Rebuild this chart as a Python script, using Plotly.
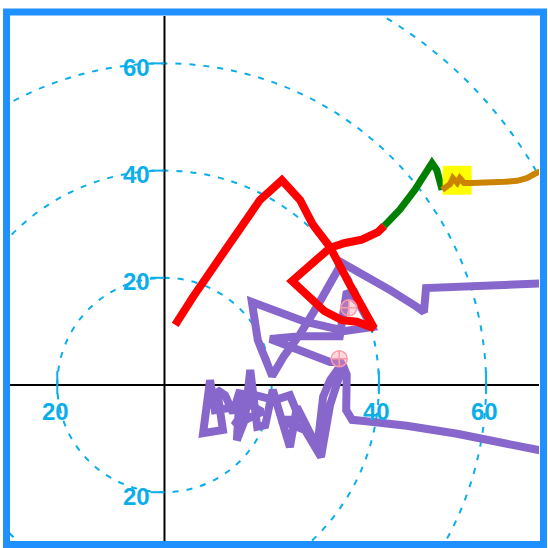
import plotly.graph_objects as go

# Hodograph wind components (u, v) in knots
red_u = [2.0, 5.3, 11.7, 17.8, 21.9, 25.3, 27.7, 30.9, 34.6, 36.8, 39.1, 35.9, 33.1, 29.8, 25.5, 23.8, 27.7, 30.9, 33.7, 36.8, 39.8, 41.0]
red_v = [11.2, 16.4, 25.7, 34.5, 38.2, 34.5, 29.9, 25.7, 18.7, 14.4, 10.6, 11.8, 12.1, 13.8, 17.7, 19.4, 22.8, 25.6, 26.5, 27.1, 28.5, 29.7]

green_u = [41.0, 43.9, 46.7, 48.6, 49.9, 50.8, 51.4, 51.8]
green_v = [29.7, 32.7, 36.4, 39.2, 41.4, 40.1, 37.9, 36.4]

orange_u = [51.8, 53.3, 53.8, 54.6, 55.1, 55.9, 57.4, 60.7, 63.5, 65.8, 67.6, 69.1, 71.6]
orange_v = [36.4, 37.5, 38.6, 37.7, 38.6, 37.7, 37.7, 37.7, 37.9, 38.1, 38.6, 39.4, 40.5]

purple_u = [71.6, 61.5, 53.5, 48.8, 48.4, 46.9, 42.1, 37.8, 33.1, 28.6, 25.3, 22.3, 20.1, 17.4,
            16.3, 26.2, 33.7, 38.7, 36.1, 34.0, 32.7, 25.3, 19.7, 30.9, 33.3, 30.9, 29.6, 28.5,
            24.7, 23.4, 20.2, 18.8, 17.3, 16.0, 15.0, 13.5, 14.1, 12.8, 11.3, 9.8, 10.9, 7.2,
            8.5, 9.4, 16.0, 18.2, 13.0, 16.9, 20.6, 23.4, 25.3, 21.5, 26.2, 29.2, 30.9, 33.3,
            34.0, 33.9, 35.0, 37.2, 45.2, 54.6, 63.9, 71.6]
purple_v = [19.0, 18.7, 18.5, 18.1, 13.6, 14.7, 17.7, 20.2, 22.8, 14.9, 9.5, 5.4, 1.7, 8.4,
            15.5, 11.8, 10.1, 10.8, 15.5, 17.4, 9.1, 9.1, 8.6, 4.3, 4.3, 0.9, -2.2, -11.6,
            -4.1, -11.6, -0.9, -7.5, -7.8, 2.8, -6.5, -10.3, -0.9, -5.2, -1.9, -0.9, -8.4, -9.0,
            0.9, -4.7, -3.7, -5.0, -7.5, -1.9, -2.8, -1.9, -6.5, -6.5, -8.4, -13.4, -3.7, 3.7,
            1.9, -4.7, -6.5, -6.7, -7.6, -9.1, -11.0, -12.5]

# Yellow box marker and storm-motion markers
box_u, box_v = [54.6], [38.2]
storm_u = [34.4, 32.6]
storm_v = [14.4, 4.9]

rings = [20, 40, 60, 80]
x_tick_vals = [-20, 40, 60]
y_tick_vals = [60, 40, 20, -20]

CYAN = "#0AAEEA"
X_RANGE = [-28.82, 69.87]
Y_RANGE = [-29.1, 68.84]

fig = go.Figure()

fig.add_trace(go.Scatter(x=purple_u, y=purple_v, mode="lines",
                         line=dict(color="#8867CC", width=8), hoverinfo="skip"))
fig.add_trace(go.Scatter(x=red_u, y=red_v, mode="lines",
                         line=dict(color="#FF0000", width=8), hoverinfo="skip"))
fig.add_trace(go.Scatter(x=green_u, y=green_v, mode="lines",
                         line=dict(color="#008000", width=7), hoverinfo="skip"))
fig.add_trace(go.Scatter(x=box_u, y=box_v, mode="markers",
                         marker=dict(symbol="square", size=29, color="#FFFF00"), hoverinfo="skip"))
fig.add_trace(go.Scatter(x=orange_u, y=orange_v, mode="lines",
                         line=dict(color="#CC8400", width=6), hoverinfo="skip"))
fig.add_trace(go.Scatter(x=storm_u, y=storm_v, mode="markers",
                         marker=dict(symbol="circle", size=16, color="rgba(255,150,165,0.35)",
                                     line=dict(width=0)), hoverinfo="skip"))
fig.add_trace(go.Scatter(x=storm_u, y=storm_v, mode="markers",
                         marker=dict(symbol="circle-cross-open", size=16, color="#FF9AAA",
                                     line=dict(width=1.5)), hoverinfo="skip"))

shapes = []
for r in rings:
    shapes.append(dict(type="circle", xref="x", yref="y", x0=-r, x1=r, y0=-r, y1=r,
                       line=dict(color=CYAN, width=2, dash="6px,8px"), layer="below"))
shapes.append(dict(type="line", xref="x", yref="y", x0=X_RANGE[0], x1=X_RANGE[1], y0=0, y1=0,
                   line=dict(color="black", width=2), layer="below"))
shapes.append(dict(type="line", xref="x", yref="y", x0=0, x1=0, y0=Y_RANGE[0], y1=Y_RANGE[1],
                   line=dict(color="black", width=2), layer="below"))
for v in y_tick_vals:
    shapes.append(dict(type="line", xref="x", yref="y", x0=-2.6, x1=0, y0=v, y1=v,
                       line=dict(color=CYAN, width=2), layer="below"))
for u in x_tick_vals:
    shapes.append(dict(type="line", xref="x", yref="y", x0=u, x1=u, y0=-1.7, y1=2.6,
                       line=dict(color=CYAN, width=2), layer="below"))
# frame around the chart
shapes.append(dict(type="rect", xref="paper", yref="paper",
                   x0=-0.0066, x1=1.0085, y0=-0.0067, y1=1.0076,
                   line=dict(color="#1E90FF", width=7)))

annotations = []
for v in y_tick_vals:
    annotations.append(dict(x=0, y=v, xref="x", yref="y", text=f"<b>{abs(v)}</b>",
                            showarrow=False, xanchor="right", yanchor="middle",
                            xshift=-12, yshift=-4,
                            font=dict(family="Liberation Sans", size=24, color=CYAN)))
for u in x_tick_vals:
    annotations.append(dict(x=u, y=0, xref="x", yref="y", text=f"<b>{abs(u)}</b>",
                            showarrow=False, xanchor="center", yanchor="middle",
                            xshift=-2, yshift=-26,
                            font=dict(family="Liberation Sans", size=24, color=CYAN)))

fig.update_layout(
    width=548, height=548,
    margin=dict(l=10, r=9, t=16, b=7),
    paper_bgcolor="white", plot_bgcolor="white",
    showlegend=False,
    xaxis=dict(range=X_RANGE, visible=False, fixedrange=True),
    yaxis=dict(range=Y_RANGE, visible=False, fixedrange=True),
    shapes=shapes, annotations=annotations,
)

fig.write_html("out.html")
